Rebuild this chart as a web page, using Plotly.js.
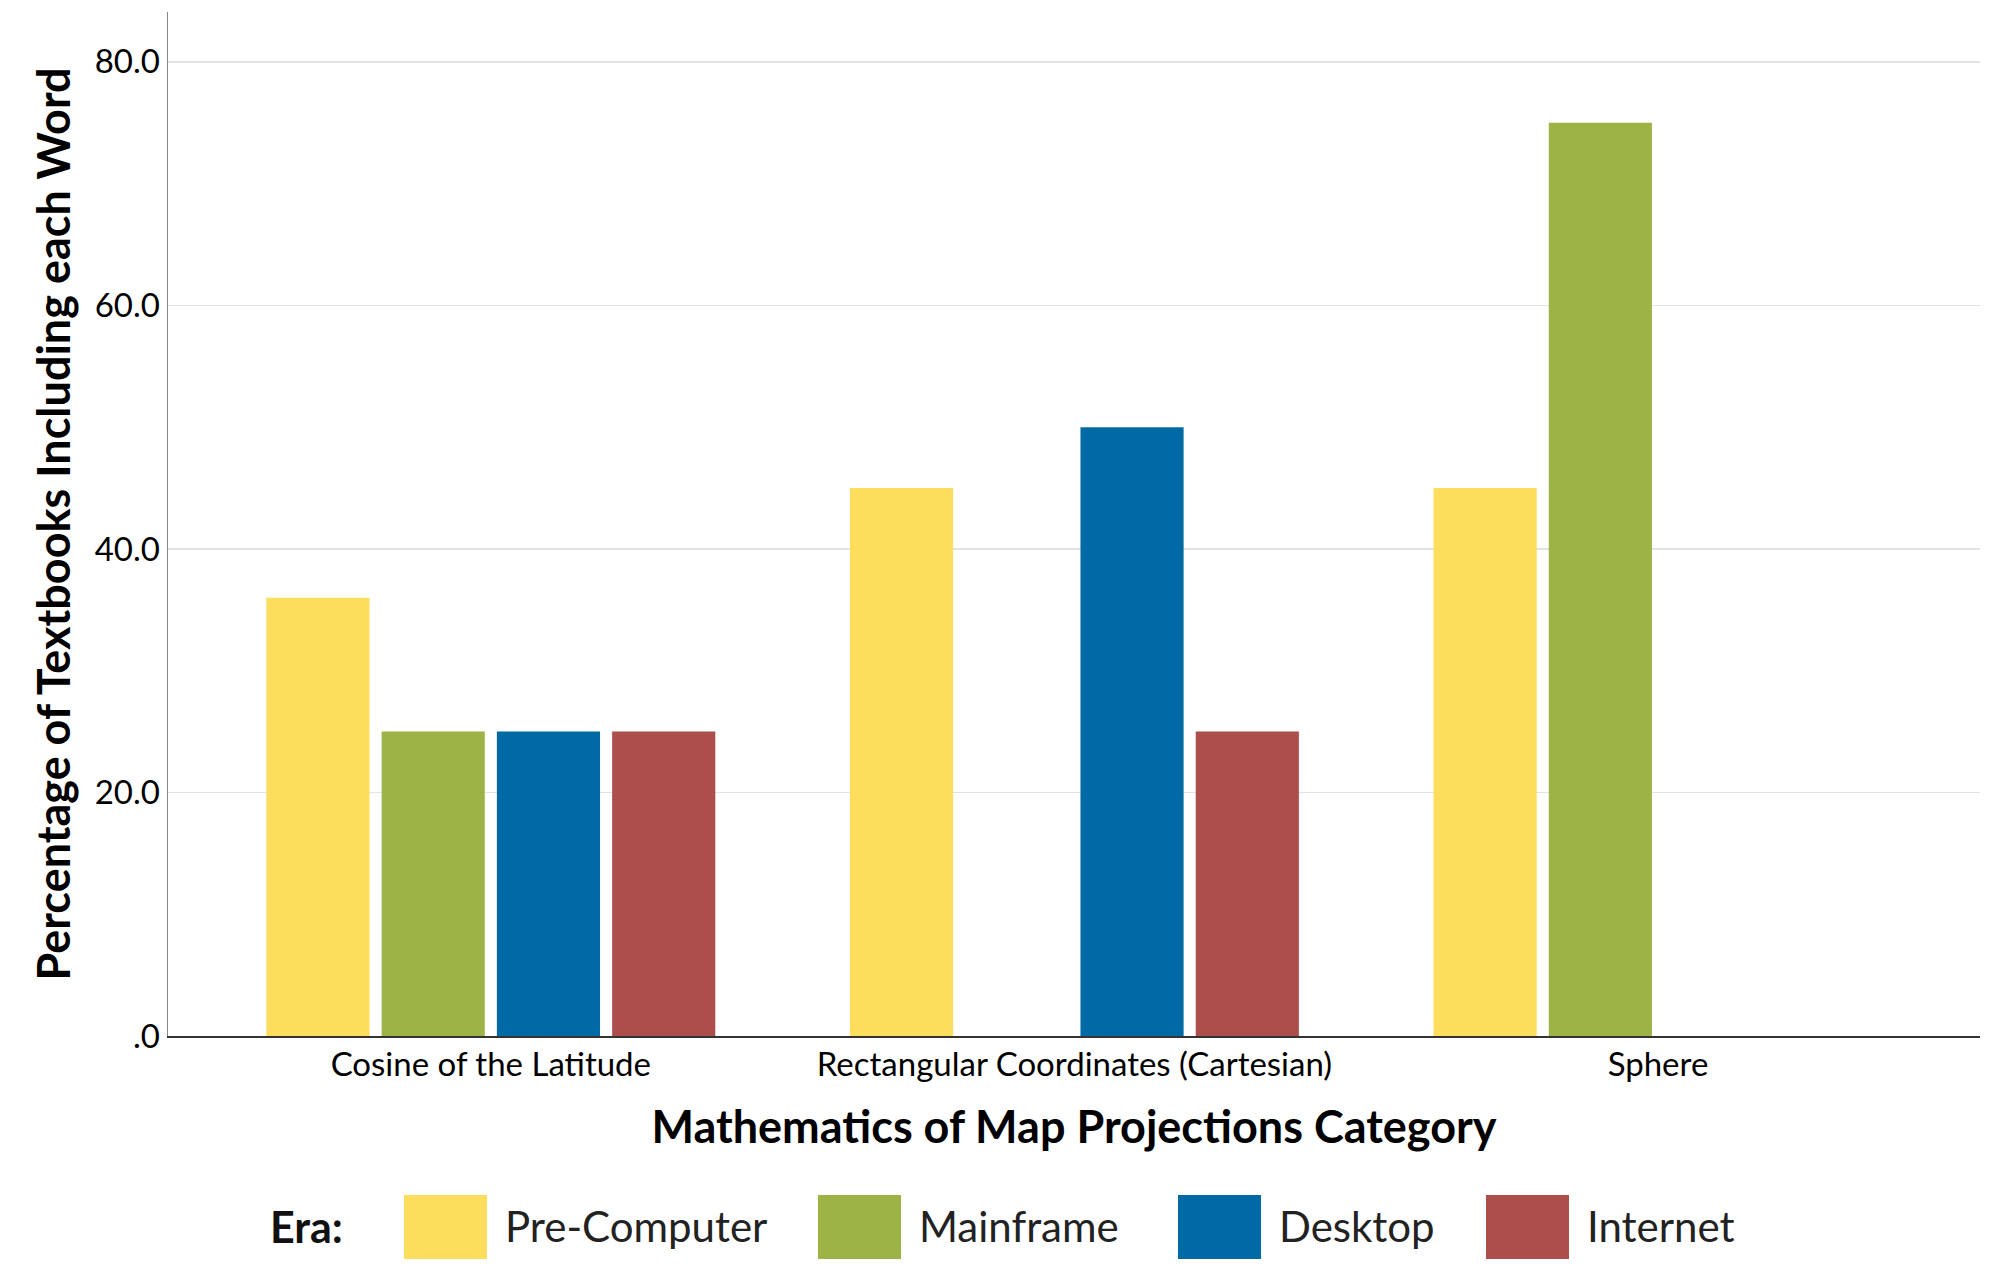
<!DOCTYPE html>
<html>
<head>
<meta charset="utf-8">
<script src="https://cdn.plot.ly/plotly-3.0.1.min.js"></script>
<style>
  html, body { margin: 0; padding: 0; background: #fff; }
  #chart { width: 2000px; height: 1283px; }
</style>
</head>
<body>
<div id="chart"></div>
<script>
const categories = ["Cosine of the Latitude", "Rectangular Coordinates (Cartesian)", "Sphere"];
const eras = ["Pre-Computer", "Mainframe", "Desktop", "Internet"];
const eraColors = ["#FDDD5C", "#9DB346", "#006AA4", "#AC4E4A"];
const preComputer = [36, 45, 45];
const mainframe = [25, null, 75];
const desktop = [25, 50, null];
const internet = [25, 25, null];
const yTickVals = [0, 20, 40, 60, 80];
const yTickText = [".0", "20.0", "40.0", "60.0", "80.0"];

const seriesValues = [preComputer, mainframe, desktop, internet];

// Bars, one trace per era
const traces = eras.map((name, i) => ({
  x: categories,
  y: seriesValues[i],
  name: name,
  type: 'bar',
  marker: { color: eraColors[i] },
  showlegend: false
}));

// plot box in pixels
const W = 2000, H = 1283;
const M = { l: 168, r: 20, t: 12, b: 247 };
const pw = W - M.l - M.r, ph = H - M.t - M.b;
const px = x => (x - M.l) / pw;
const py = y => (H - M.b - y) / ph;

// Legend drawn by hand so the swatches can be large
const legendX = [404, 818, 1178, 1486];
const shapes = [];
const annotations = [{
  text: "<b>Era:</b>", xref: 'paper', yref: 'paper',
  x: px(268), y: py(1226), xanchor: 'left', yanchor: 'middle',
  showarrow: false, font: { family: 'Lato', size: 43, color: '#111' }
}];
eras.forEach((name, i) => {
  shapes.push({
    type: 'rect', xref: 'paper', yref: 'paper',
    x0: px(legendX[i]), x1: px(legendX[i] + 83),
    y0: py(1259), y1: py(1195),
    fillcolor: eraColors[i], line: { width: 0 }
  });
  annotations.push({
    text: name, xref: 'paper', yref: 'paper',
    x: px(legendX[i] + 99), y: py(1226), xanchor: 'left', yanchor: 'middle',
    showarrow: false, font: { family: 'Lato', size: 42, color: '#222' }
  });
});

const layout = {
  width: W, height: H,
  margin: M,
  paper_bgcolor: '#fff', plot_bgcolor: '#fff',
  font: { family: 'Lato', color: '#000' },
  barmode: 'group',
  bargap: 0.21,
  bargroupgap: 0.105,
  showlegend: false,
  xaxis: {
    range: [-0.5532, 2.5518],
    showline: true, linecolor: '#333', linewidth: 2,
    showgrid: false, zeroline: false,
    ticks: '', ticklabelstandoff: -2,
    tickfont: { family: 'Lato', size: 33, color: '#000' },
    title: {
      text: '<b>Mathematics of Map Projections Category</b>',
      font: { family: 'Lato', size: 45, color: '#000' },
      standoff: 30
    }
  },
  yaxis: {
    range: [0, 84.1],
    tickvals: yTickVals, ticktext: yTickText,
    showline: true, linecolor: '#888', linewidth: 1.5,
    showgrid: true, gridcolor: '#e2e2e2', gridwidth: 1.5,
    zeroline: false,
    ticks: '',
    tickfont: { family: 'Lato', size: 33, color: '#000' },
    title: {
      text: '<b>Percentage of Textbooks Including each Word</b>',
      font: { family: 'Lato', size: 45, color: '#000' },
      standoff: 10
    }
  },
  shapes: shapes,
  annotations: annotations
};

Plotly.newPlot('chart', traces, layout, { displayModeBar: false, staticPlot: true });
</script>
</body>
</html>
